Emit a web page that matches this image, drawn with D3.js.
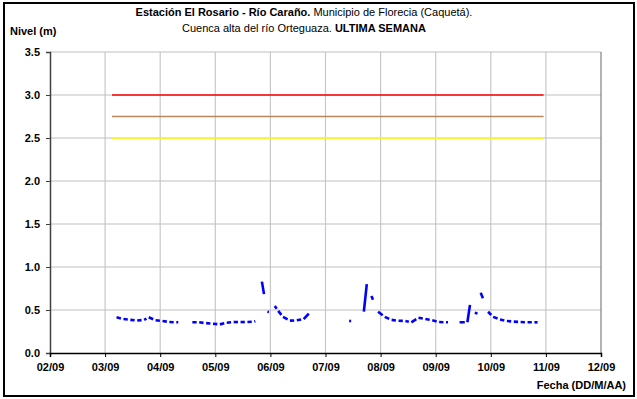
<!DOCTYPE html>
<html><head><meta charset="utf-8">
<script src="https://cdn.jsdelivr.net/npm/d3@7"></script>
<style>
html,body{margin:0;padding:0;background:#fff;}
text{font-family:"Liberation Sans",Arial,sans-serif;}
</style></head>
<body><svg id="c" width="637" height="399"></svg>
<script>
// x ticks: days (02/09 .. 12/09), time in hours since 02/09 00:00
const dayLabels = ["02/09","03/09","04/09","05/09","06/09","07/09","08/09","09/09","10/09","11/09","12/09"];
const yTicks = [0,0.5,1,1.5,2,2.5,3,3.5];
// thresholds (m)
const thresholdNames = ["rojo","naranja","amarillo"];
const thresholdValues = [3.0, 2.75, 2.5];
const thresholdColors = ["#ff0000","#b4875f","#ffff00"];
const thresholdStart = 27, thresholdEnd = 215;
// level series: hours since 02/09 00:00, nivel (m); null = missing
const hours = [29,32,35,38,41,43,46,49,52,55,57,null,
  62,65,68,71,74,77,80,83,86,89,90.5,null,
  92.3,93.4,null,94.7,96.5,null,
  97.9,99.4,101.5,104.5,107.5,110.5,113.5,null,
  130.3,132.3,null,
  136.7,138.1,null,140,141.1,null,
  142.9,145.8,148.8,151.8,154.8,157.4,160.5,163.5,166.5,169.5,172.5,174.5,null,
  178.4,181.8,183.1,null,185,186.2,null,187.6,189,null,
  190.8,193,196,199,202,205,208,211,213.5];
const levels = [0.415,0.395,0.385,0.378,0.385,0.415,0.38,0.372,0.36,0.357,0.357,null,
  0.357,0.357,0.347,0.34,0.333,0.352,0.36,0.36,0.36,0.365,0.38,null,
  0.83,0.655,null,0.48,0.47,null,
  0.547,0.49,0.42,0.376,0.38,0.395,0.48,null,
  0.372,0.372,null,
  0.48,0.83,null,0.663,0.59,null,
  0.48,0.42,0.385,0.375,0.372,0.357,0.41,0.395,0.38,0.36,0.357,0.357,null,
  0.357,0.357,0.59,null,0.468,0.46,null,0.70,0.61,null,
  0.48,0.42,0.39,0.372,0.365,0.36,0.357,0.357,0.357];

const svg = d3.select("#c");
const L = 50, R = 601, T = 52, B = 353;
const x = d3.scaleLinear().domain([0, 240]).range([L, R]);
const y = d3.scaleLinear().domain([0, 3.5]).range([B, T]);

// outer frame
svg.append("rect").attr("x",4).attr("y",3).attr("width",630).attr("height",393)
  .attr("fill","none").attr("stroke","#000").attr("stroke-width",2);

// gridlines
const dayHours = dayLabels.map((d,i)=>i*24);
svg.append("g").selectAll("line").data(dayHours.slice(1,-1)).join("line")
  .attr("x1",d=>x(d)).attr("x2",d=>x(d)).attr("y1",T).attr("y2",B)
  .attr("stroke","#c8c8c8").attr("stroke-width",1.2);
svg.append("g").selectAll("line").data(yTicks.slice(1)).join("line")
  .attr("x1",L).attr("x2",R).attr("y1",d=>y(d)).attr("y2",d=>y(d))
  .attr("stroke","#c0c0c0").attr("stroke-width",1.2);
// right border
svg.append("line").attr("x1",R).attr("x2",R).attr("y1",T).attr("y2",B)
  .attr("stroke","#808080").attr("stroke-width",1.2);

// thresholds
thresholdValues.forEach((v,i)=>{
  svg.append("line").attr("class","thr-"+thresholdNames[i])
    .attr("x1",x(thresholdStart)).attr("x2",x(thresholdEnd))
    .attr("y1",y(v)).attr("y2",y(v))
    .attr("stroke",thresholdColors[i]).attr("stroke-width",1.6);
});

// level series, drawn segment by segment
const pts = hours.map((h,i)=> h===null ? null : [h, levels[i]]);
const segs = [];
for (let i=1;i<pts.length;i++){ if(pts[i-1] && pts[i]) segs.push([pts[i-1],pts[i]]); }
const gap = 2.6;
svg.append("g").selectAll("line").data(segs).join("line")
  .attr("x1",d=>x(d[0][0])).attr("y1",d=>y(d[0][1]))
  .attr("x2",d=>x(d[1][0])).attr("y2",d=>y(d[1][1]))
  .attr("stroke","#0000ff").attr("stroke-width",2.6)
  .attr("stroke-dasharray",d=>{
    const len = Math.hypot(x(d[1][0])-x(d[0][0]), y(d[1][1])-y(d[0][1]));
    return len > gap+1 ? `${len-gap},${gap}` : null;
  });

// axes
const yAxis = d3.axisLeft(y).tickValues(yTicks).tickFormat(d3.format(".1f")).tickSize(4).tickPadding(6);
const gy = svg.append("g").attr("transform",`translate(${L},0)`).call(yAxis);
gy.select(".domain").attr("stroke","#404040").attr("stroke-width",1.5);
gy.selectAll(".tick line").attr("stroke","#404040");
gy.selectAll("text").attr("font-size","11px").attr("font-weight","bold").attr("fill","#000")
  .attr("font-family","Liberation Sans, Arial, sans-serif");

const xAxis = d3.axisBottom(x).tickValues(dayHours).tickFormat((d,i)=>dayLabels[i]).tickSize(4).tickPadding(6);
const gx = svg.append("g").attr("transform",`translate(0,${B})`).call(xAxis);
gx.select(".domain").attr("stroke","#000").attr("stroke-width",1.5);
gx.selectAll(".tick line").attr("stroke","#000");
gx.selectAll("text").attr("font-size","11px").attr("font-weight","bold").attr("fill","#000")
  .attr("font-family","Liberation Sans, Arial, sans-serif");

// titles
const t1 = svg.append("text").attr("x",304).attr("y",16).attr("text-anchor","middle").attr("font-size","11px");
t1.append("tspan").attr("font-weight","bold").text("Estación El Rosario - Río Caraño.");
t1.append("tspan").text(" Municipio de Florecia (Caquetá).");
const t2 = svg.append("text").attr("x",304).attr("y",32).attr("text-anchor","middle").attr("font-size","11px");
t2.append("tspan").text("Cuenca alta del río Orteguaza. ");
t2.append("tspan").attr("font-weight","bold").text("ULTIMA SEMANA");
svg.append("text").attr("x",10).attr("y",35).attr("font-size","11px").attr("font-weight","bold").text("Nivel (m)");
svg.append("text").attr("x",626).attr("y",389).attr("text-anchor","end").attr("font-size","11px").attr("font-weight","bold").text("Fecha (DD/M/AA)");
</script></body></html>
